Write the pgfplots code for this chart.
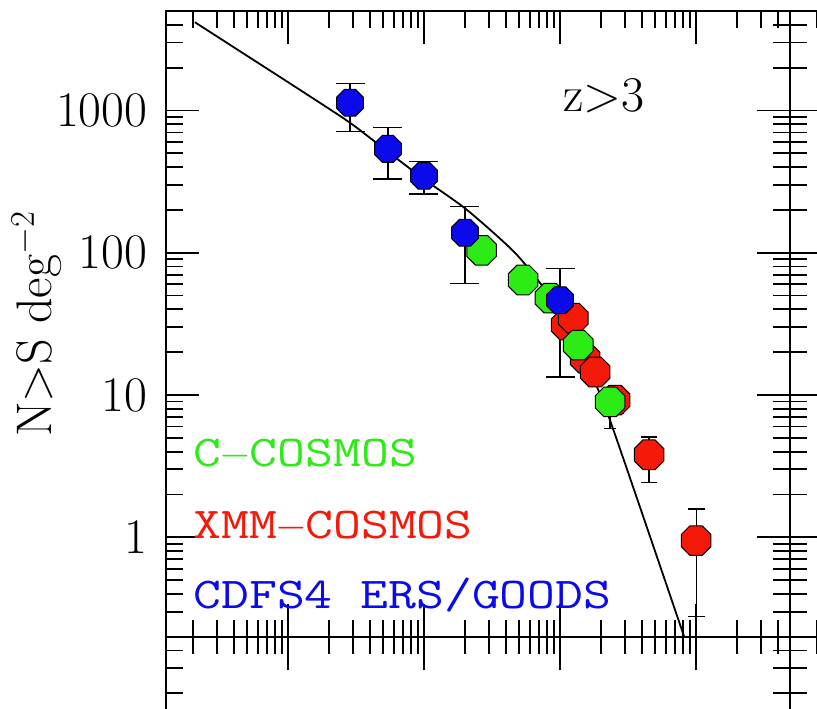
\documentclass[border=0pt]{standalone}
\usepackage{pgfplots}
\usepackage{pgfplotstable}
\usepackage{graphicx}
\pgfplotsset{compat=1.18}

\definecolor{cgreen}{RGB}{45,235,20}
\definecolor{cred}{RGB}{245,25,10}
\definecolor{cblue}{RGB}{10,10,235}

% octagonal symbol
\pgfdeclareplotmark{oct}{%
  \pgfpathmoveto{\pgfpointpolar{22.5}{\pgfplotmarksize}}%
  \pgfpathlineto{\pgfpointpolar{67.5}{\pgfplotmarksize}}%
  \pgfpathlineto{\pgfpointpolar{112.5}{\pgfplotmarksize}}%
  \pgfpathlineto{\pgfpointpolar{157.5}{\pgfplotmarksize}}%
  \pgfpathlineto{\pgfpointpolar{202.5}{\pgfplotmarksize}}%
  \pgfpathlineto{\pgfpointpolar{247.5}{\pgfplotmarksize}}%
  \pgfpathlineto{\pgfpointpolar{292.5}{\pgfplotmarksize}}%
  \pgfpathlineto{\pgfpointpolar{337.5}{\pgfplotmarksize}}%
  \pgfpathclose
  \pgfusepathqfillstroke
}

\newcommand{\legfont}{\ttfamily\fontsize{22}{26}\selectfont}
\newcommand{\legtext}[1]{\scalebox{1.23}[1]{#1}}
\newcommand{\mdash}{\makebox[0.525em]{\scalebox{0.8}[1]{$-$}}}

% flux S in units of 1e-18 erg/cm^2/s
% XMM-COSMOS
\pgfplotstableread{
x       y      ep     em
1107    31.0   5      4
1250    34.7   5      4
1530    18.1   3      3
1810    14.5   2.5    2.5
2540    9.19   1.8    1.8
4510    3.80   1.26   1.36
10000   0.948  0.63   0.672
}\redtab
% C-COSMOS
\pgfplotstableread{
x       y      ep     em
265     104    9      9
535     64.3   8      8
844     48     5      5
1360    22.4   4.8    5
2330    8.94   2.2    3.1
}\greentab
% CDFS4 ERS/GOODS
\pgfplotstableread{
x       y      ep     em
28.6    1132   408    421
54.3    537    218    207
100     347    89     88
200     138    72     77
1000    46.4   31.2   33.0
}\bluetab

% shared look of every panel in the grid
\pgfplotsset{
  width=312pt, height=312.85pt, scale only axis,
  xmin=1.27, xmax=49000, ymin=0.2, ymax=5000,
  tick align=inside,
  major tick length=16.5pt, minor tick length=8.5pt,
  axis line style={line width=1pt},
  every tick/.append style={black, line width=0.9pt},
  clip=false,
}

\begin{document}
\begin{tikzpicture}
\path[use as bounding box] (-83pt,-35.65pt) rectangle (325.5pt,318.35pt);
\clip (-83pt,-35.65pt) rectangle (325.5pt,318.35pt);

\begin{loglogaxis}[at={(0,0)}, anchor=south west,
  xticklabels={},
  log ticks with fixed point,
  /pgf/number format/1000 sep={},
  yticklabel style={font=\fontsize{26}{31}\selectfont, xshift=-5.8pt},
]
% model counts
\addplot[black, line width=0.9pt, mark=none, smooth, tension=0.4] coordinates {
  (2.07,4169) (12.2,1399) (28.6,819) (54.3,512)
  (101.7,325) (207,200) (483,96.4) (1000,39.4)
  (1528,17.5) (2330,6.64) (8170,0.2)
};
\addplot[only marks, mark=oct, mark size=8pt, mark options={fill=cred, draw=black, line width=0.5pt}]
  table[x=x, y=y]{\redtab};
\addplot[only marks, mark=oct, mark size=8pt, mark options={fill=cgreen, draw=black, line width=0.5pt}]
  table[x=x, y=y]{\greentab};
\addplot[only marks, mark=oct, mark size=7.25pt, mark options={fill=cblue, draw=black, line width=0.5pt}]
  table[x=x, y=y]{\bluetab};

\addplot[draw=none, mark=none, error bars/.cd, y dir=both, y explicit,
  error bar style={draw=black, line width=0.6pt},
  error mark options={draw=black, line width=0.6pt, mark size=4.2pt, rotate=90}]
  table[x=x, y=y, y error plus=ep, y error minus=em]{\redtab};
\addplot[draw=none, mark=none, error bars/.cd, y dir=both, y explicit,
  error bar style={draw=black, line width=0.6pt},
  error mark options={draw=black, line width=0.6pt, mark size=3pt, rotate=90}]
  table[x=x, y=y, y error plus=ep, y error minus=em]{\greentab};
\addplot[draw=none, mark=none, error bars/.cd, y dir=both, y explicit,
  error bar style={draw=black, line width=0.6pt},
  error mark options={draw=black, line width=0.6pt, mark size=7.25pt, rotate=90}]
  table[x=x, y=y, y error plus=ep, y error minus=em]{\bluetab};

\node[anchor=base west, inner sep=0, font=\fontsize{25}{30}\selectfont]
  at ([xshift=198.5pt, yshift=262.5pt]rel axis cs:0,0) {z$>$3};
\node[anchor=base west, inner sep=0, text=cgreen, font=\legfont]
  at ([xshift=13.5pt, yshift=85.35pt]rel axis cs:0,0) {\legtext{C\mdash COSMOS}};
\node[anchor=base west, inner sep=0, text=cred, font=\legfont]
  at ([xshift=13.5pt, yshift=49.35pt]rel axis cs:0,0) {\legtext{XMM\mdash COSMOS}};
\node[anchor=base west, inner sep=0, text=cblue, font=\legfont]
  at ([xshift=13.5pt, yshift=14.35pt]rel axis cs:0,0) {\legtext{CDFS4 ERS/GOODS}};
\node[rotate=90, anchor=base, inner sep=0, font=\fontsize{25}{30}\selectfont]
  at ([xshift=-57pt]rel axis cs:0,0.5) {N$>$S deg$^{-2}$};
\end{loglogaxis}

% neighbouring panels of the grid
\begin{loglogaxis}[at={(0,0)}, anchor=north west, xticklabels={}, yticklabels={}]
\addplot[draw=none, mark=none] coordinates {(100,10)};
\end{loglogaxis}
\begin{loglogaxis}[at={(312pt,0)}, anchor=south west, xticklabels={}, yticklabels={}]
\addplot[draw=none, mark=none] coordinates {(100,10)};
\end{loglogaxis}
\begin{loglogaxis}[at={(312pt,0)}, anchor=north west, xticklabels={}, yticklabels={}]
\addplot[draw=none, mark=none] coordinates {(100,10)};
\end{loglogaxis}
\end{tikzpicture}
\end{document}
